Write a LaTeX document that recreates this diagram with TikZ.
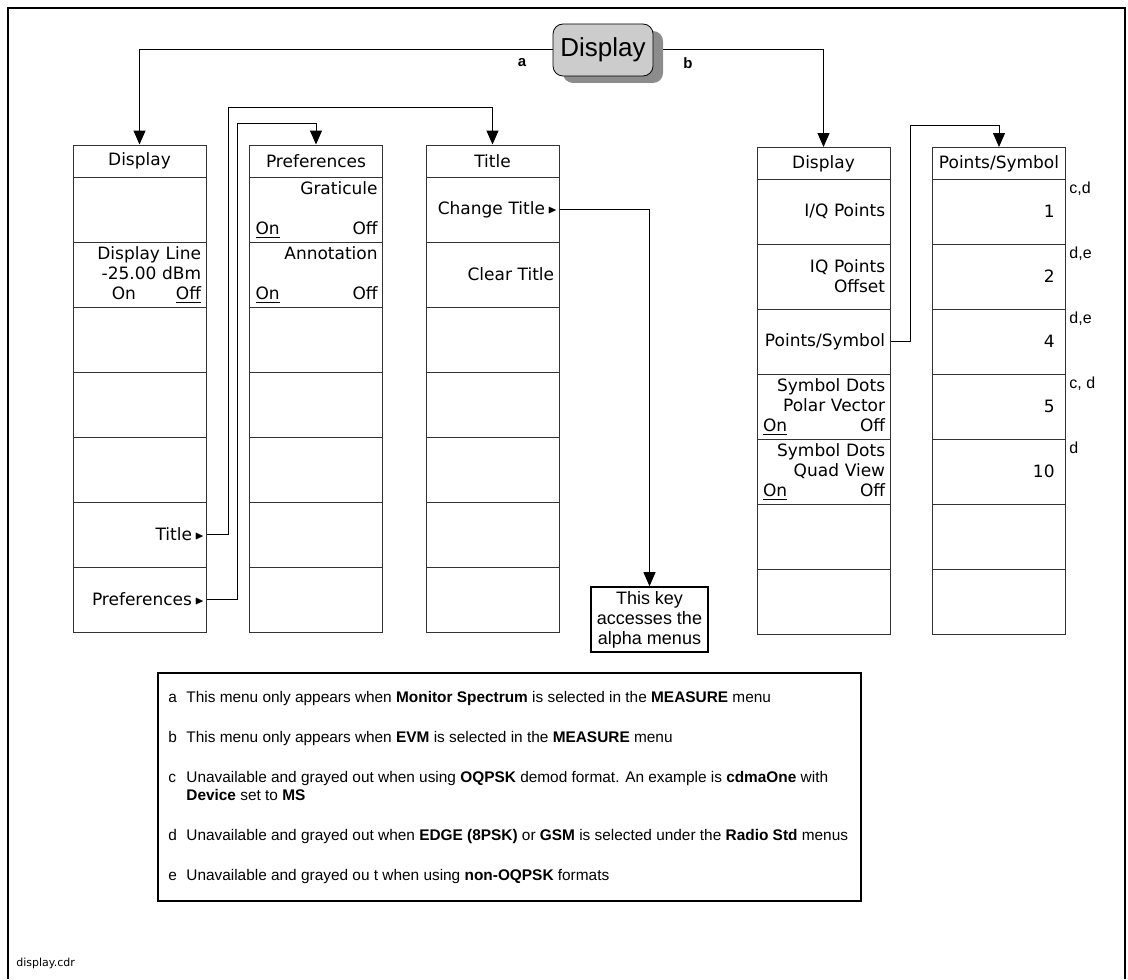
\documentclass[tikz,border=0pt]{standalone}
\usepackage{fontspec}
\usepackage{amssymb}
\setmainfont{Liberation Sans}
\newfontfamily\menufont{DejaVu Sans}
\usetikzlibrary{arrows.meta}

\newcommand{\keyfont}{\menufont\fontsize{8.5}{10}\selectfont}
\newcommand{\more}{\,\raisebox{0.1ex}{\scalebox{0.7}{$\blacktriangleright$}}}

\tikzset{
  menukey/.style={draw=black!80, line width=0.5pt, minimum width=66.5pt, minimum height=32.5pt, inner sep=0pt},
  menuhead/.style={menukey, minimum height=16pt, font=\keyfont},
  keytext/.style={font=\keyfont, align=right, text width=61pt, inner xsep=2.5pt, inner ysep=2.5pt},
  link/.style={line width=0.5pt, -{Triangle[length=7pt,width=6pt]}},
  legtext/.style={font=\fontsize{7.7}{9}\selectfont, anchor=base west, inner sep=0pt},
  flag/.style={font=\fontsize{8}{9}\selectfont, anchor=north west, inner sep=1.5pt},
}

\begin{document}
\begin{tikzpicture}[x=0.5pt,y=-0.5pt]
\useasboundingbox (0,0) rectangle (1128,979);
\draw[line width=1.25pt] (8,979) -- (8,8) -- (1125,8) -- (1125,979);

% softkey button
\fill[black!45, rounded corners=5pt] (563,31) rectangle (663,83);
\node[draw, fill=black!20, rounded corners=5pt, minimum width=50pt, minimum height=26pt, font=\fontsize{13}{14}\selectfont] (btn) at (603,50) {Display};
\node[font=\bfseries\fontsize{7.5}{9}\selectfont] (la) at (522,63) {a};
\node[font=\bfseries\fontsize{7.5}{9}\selectfont] (lb) at (688,63) {b};

% menus a
\node[menuhead] (ld) at (139.5,161) {Display};
\node[menuhead] (pr) at (316,161) {Preferences};
\node[menuhead] (tt) at (492.5,161) {Title};
\foreach \k in {1,...,7}{
\node[menukey] (ld\k) at (139.5,{177+65*\k-32.5}) {};
\node[menukey] (pr\k) at (316,{177+65*\k-32.5}) {};
\node[menukey] (tt\k) at (492.5,{177+65*\k-32.5}) {};
}
\node[keytext, anchor=north east] (dline) at (ld2.north east) {Display Line\\-25.00 dBm\\On\hspace{20pt}\underline{Off}};
\node[keytext, anchor=east, inner xsep=1pt] (dtitle) at (ld6.east) {Title\more};
\node[keytext, anchor=east, inner xsep=1pt] (dpref) at (ld7.east) {Preferences\more};
\node[keytext, anchor=north east] (grat) at (pr1.north east) {Graticule\\[10pt]\underline{On}\hfill Off};
\node[keytext, anchor=north east] (anno) at (pr2.north east) {Annotation\\[10pt]\underline{On}\hfill Off};
\node[keytext, anchor=east, inner xsep=1pt] (chg) at (tt1.east) {Change Title\more};
\node[keytext, anchor=east] (clr) at (tt2.east) {Clear Title};

% menus b
\node[menuhead] (rd) at (823.5,163.5) {Display};
\node[menuhead] (ps) at (999,163.5) {Points/Symbol};
\foreach \k in {1,...,7}{
\node[menukey] (rd\k) at (823.5,{179+65*\k-32.5}) {};
\node[menukey] (ps\k) at (999,{179+65*\k-32.5}) {};
}
\node[keytext, anchor=east] (iq) at (rd1.east) {I/Q Points};
\node[keytext, anchor=east] (iqoff) at (rd2.east) {IQ Points\\Offset};
\node[keytext, anchor=east] (pts) at (rd3.east) {Points/Symbol};
\node[keytext, anchor=north east] (polar) at (rd4.north east) {Symbol Dots\\Polar Vector\\\underline{On}\hfill Off};
\node[keytext, anchor=north east] (quad) at (rd5.north east) {Symbol Dots\\Quad View\\\underline{On}\hfill Off};
\foreach \k/\v in {1/1,2/2,3/4,4/5,5/10}
\node[keytext, anchor=east] (pv\k) at ([xshift=-3pt]ps\k.east) {\v};
\foreach \k/\f in {1/{c,d},2/{d,e},3/{d,e},4/{c, d},5/d}
\node[flag] (pf\k) at (ps\k.north east) {\f};

% note for Change Title
\node[draw, line width=0.8pt, align=center, font=\fontsize{9}{10}\selectfont, minimum width=58.5pt, minimum height=32.5pt, inner sep=1pt] (note) at (649.5,619.5) {This key\\accesses the\\alpha menus};

% connectors
\draw[link] (btn.west) -| (ld.north);
\draw[link] ([xshift=5pt]btn.east) -| (rd.north);
\draw[link] (ld6.east) -| (228,108) -| (tt.north);
\draw[link] (ld7.east) -| (237,123) -| (pr.north);
\draw[link] (tt1.east) -| (note.north);
\draw[link] (rd3.east) -| (910,125) -| (ps.north);

% footnotes
\node[draw, line width=1pt, anchor=north west, minimum width=351.5pt, minimum height=114pt] (legend) at (157,672) {};
\node[legtext] (na) at (168,702) {a};
\node[legtext] (ta) at (186,702) {This menu only appears when \textbf{Monitor Spectrum} is selected in the \textbf{MEASURE} menu};
\node[legtext] (nb) at (168,742) {b};
\node[legtext] (tb) at (186,742) {This menu only appears when \textbf{EVM} is selected in the \textbf{MEASURE} menu};
\node[legtext] (nc) at (168,782) {c};
\node[legtext] (tc) at (186,782) {Unavailable and grayed out when using \textbf{OQPSK} demod format. An example is \textbf{cdmaOne} with};
\node[legtext] (tc2) at (186,800) {\textbf{Device} set to \textbf{MS}};
\node[legtext] (nd) at (168,840) {d};
\node[legtext] (td) at (186,840) {Unavailable and grayed out when \textbf{EDGE (8PSK)} or \textbf{GSM} is selected under the \textbf{Radio Std} menus};
\node[legtext] (ne) at (168,880) {e};
\node[legtext] (te) at (186,880) {Unavailable and grayed ou t when using \textbf{non-OQPSK} formats};

\node[anchor=base west, inner sep=0pt, font=\menufont\fontsize{5.5}{6}\selectfont] (file) at (16,966) {display.cdr};
\end{tikzpicture}
\end{document}
